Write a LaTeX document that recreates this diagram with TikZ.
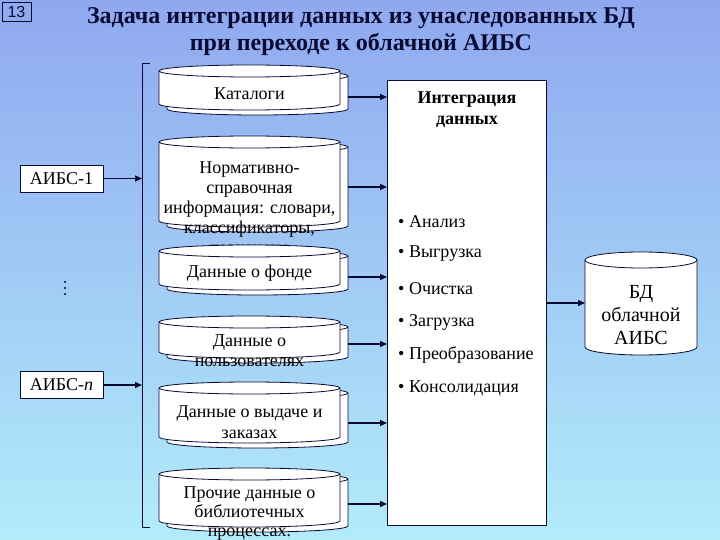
\documentclass[tikz,border=0pt]{standalone}
\usepackage{fontspec}
\setmainfont{Liberation Serif}
\newfontfamily\sansf{Liberation Sans}
\usetikzlibrary{arrows.meta}
\definecolor{bgtop}{RGB}{143,168,240}
\definecolor{bgbot}{RGB}{178,236,250}
\definecolor{ink}{RGB}{10,10,50}
\newcommand\dbcyl[5]{%
  \pgfmathsetmacro\cxa{#1}%
  \pgfmathsetmacro\cxb{#2}%
  \pgfmathsetmacro\cyt{-(#3)-(#5)}%
  \pgfmathsetmacro\cyb{-(#4)+(#5)}%
  \pgfmathsetmacro\rxc{((#2)-(#1))/2}%
  \draw[cylline] (\cxa,\cyt) -- (\cxa,\cyb)
     arc[start angle=180,end angle=360,x radius=\rxc pt,y radius=#5pt]
     -- (\cxb,\cyt)
     arc[start angle=0,end angle=180,x radius=\rxc pt,y radius=#5pt] -- cycle;
  \draw[cylline,fill=none] (\cxa,\cyt)
     arc[start angle=180,end angle=360,x radius=\rxc pt,y radius=#5pt];%
}
\newcommand\dbpair[5]{%
  \dbcyl{(#1)+8}{(#2)+8}{(#3)+5}{(#4)+5}{#5}%
  \dbcyl{#1}{#2}{#3}{#4}{#5}%
}
\tikzset{
  cylline/.style={draw=ink,fill=white,line width=0.8pt},
  txt/.style={font=\fontsize{18}{20}\selectfont,text=black,align=center,inner sep=0pt},
  bul/.style={font=\fontsize{18}{20}\selectfont,text=black,anchor=west,inner sep=0pt},
  arr/.style={draw=ink,line width=1.4pt,-{Triangle[length=7pt,width=6pt]}},
  sysbox/.style={draw=ink,fill=white,line width=0.8pt,minimum width=83pt,minimum height=27pt,inner sep=0pt,font=\fontsize{18}{20}\selectfont},
}
\begin{document}
\begin{tikzpicture}[x=1pt,y=1pt]
\useasboundingbox (0,0) rectangle (720,-540);
\shade[top color=bgtop,bottom color=bgbot] (0,0) rectangle (720,-540);

% number
\node[draw=ink,line width=0.8pt,minimum width=29pt,minimum height=19pt,inner sep=0pt,
      font=\sansf\fontsize{16}{16}\selectfont,text=ink] (num) at (16.5,-11.5) {13};

% title
\node[font=\bfseries\fontsize{24}{27}\selectfont,text=ink,align=center,inner sep=0pt]
  (title) at (361,-32) {Задача интеграции данных из унаследованных БД\\при переходе к облачной АИБС};

% bracket
\coordinate (brtop) at (142,-63);
\coordinate (brbot) at (142,-527);
\draw[draw=ink,line width=0.8pt] (150,-63) -- (brtop) -- (brbot) -- (150,-527);

% source systems
\node[sysbox] (a1) at (61.5,-178.5) {АИБС-1};
\node[sysbox] (an) at (61.5,-385) {АИБС-\textit{n}};
\foreach \yy in {282,288,294} \fill[ink] (65,-\yy) circle[radius=1.1pt];
\draw[arr] (a1.east) -- (a1.east -| brtop);
\draw[arr] (an.east) -- (an.east -| brtop);

% integration box
\node[draw=ink,fill=white,line width=0.8pt,minimum width=159pt,minimum height=445pt,
      anchor=north west,inner sep=0pt] (integ) at (387,-80) {};
\node[font=\bfseries\fontsize{18}{21}\selectfont,align=center,inner sep=0pt] (ihead) at (467,-110) {Интеграция\\данных};
\node[bul] (b1) at (398,-222) {• Анализ};
\node[bul] (b2) at (398,-254) {• Выгрузка};
\node[bul] (b3) at (398,-289) {• Очистка};
\node[bul] (b4) at (398,-322) {• Загрузка};
\node[bul] (b5) at (398,-355) {• Преобразование};
\node[bul] (b6) at (398,-388) {• Консолидация};

% source databases
\dbpair{159}{340}{65}{110}{6}
\node[txt] (cat) at (249.5,-94) {Каталоги};
\dbpair{159}{340}{136}{227}{6}
\node[txt,font=\fontsize{18}{20}\selectfont] (nsi) at (249.5,-210) {Нормативно-\\справочная\\информация: словари,\\классификаторы,\\тезаурусы};
\dbpair{159}{340}{245}{290}{6}
\node[txt] (fond) at (249.5,-273) {Данные о фонде};
\dbpair{159}{340}{316}{358}{6}
\node[txt] (users) at (249.5,-351) {Данные о\\пользователях};
\dbpair{159}{340}{382}{443}{6}
\node[txt,font=\fontsize{18}{21}\selectfont] (loans) at (249.5,-422.5) {Данные о выдаче и\\заказах};
\dbpair{159}{340}{468}{527}{6}
\node[txt,font=\fontsize{18}{19}\selectfont] (other) at (249.5,-514) {Прочие данные о\\библиотечных\\процессах.};

\coordinate (catR) at (348,-97);
\coordinate (nsiR) at (348,-187);
\coordinate (fondR) at (348,-277);
\coordinate (usersR) at (348,-344);
\coordinate (loansR) at (348,-423);
\coordinate (otherR) at (348,-504);
\foreach \c in {catR,nsiR,fondR,usersR,loansR,otherR}
  \draw[arr] (\c) -- (\c -| integ.west);

% target database
\dbcyl{585}{697}{252}{355}{8}
\node[txt,font=\fontsize{20}{23}\selectfont] (bd) at (641,-315) {БД\\облачной\\АИБС};
\coordinate (bdL) at (585,-303);
\draw[arr] (bdL -| integ.east) -- (bdL);
\end{tikzpicture}
\end{document}
